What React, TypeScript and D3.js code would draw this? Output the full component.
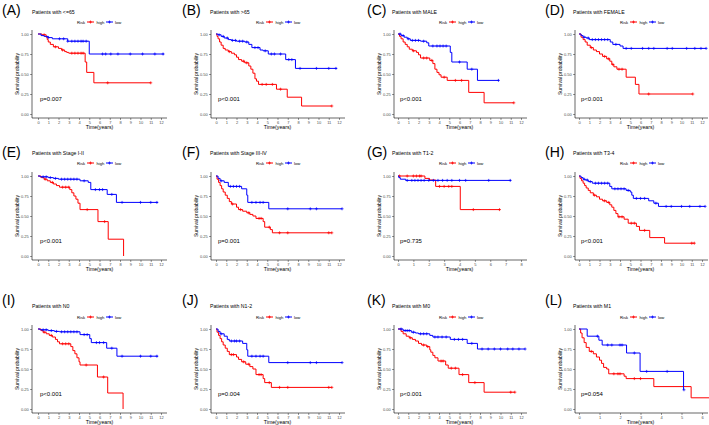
import { useEffect, useRef } from "react"
import * as d3 from "d3"

// panel labels and subtitles
const letters = ["(A)", "(B)", "(C)", "(D)", "(E)", "(F)", "(G)", "(H)", "(I)", "(J)", "(K)", "(L)"]
const titles = [
  "Patients with <=65",
  "Patients with >65",
  "Patients with MALE",
  "Patients with FEMALE",
  "Patients with Stage I-II",
  "Patients with Stage III-IV",
  "Patients with T1-2",
  "Patients with T3-4",
  "Patients with N0",
  "Patients with N1-2",
  "Patients with M0",
  "Patients with M1",
]
const pvals = ["p=0.007", "p<0.001", "p<0.001", "p<0.001", "p<0.001", "p=0.001", "p=0.735", "p<0.001", "p<0.001", "p=0.004", "p<0.001", "p=0.054"]
const xMaxTicks = [12, 12, 12, 12, 12, 12, 8, 12, 12, 12, 12, 6]
const yTicks = [0, 0.25, 0.5, 0.75, 1]

// step points [time, survival] for each risk group, plus censored times
const highA = [[0, 1], [0.4, 0.99], [0.8, 0.96], [0.9, 0.93], [1.0, 0.9], [1.2, 0.87], [1.5, 0.84], [2.0, 0.82], [2.3, 0.8], [2.6, 0.78], [2.8, 0.77], [3.0, 0.76], [4.6, 0.65], [4.75, 0.52], [5.45, 0.39], [11.0, 0.39]]
const lowA = [[0, 1], [0.3, 0.98], [0.6, 0.97], [1.0, 0.955], [1.4, 0.94], [2.9, 0.91], [5.0, 0.75], [12.3, 0.75]]
const censHighA = [0.6, 1.7, 2.4, 3.3, 3.6, 3.9, 4.2, 4.4, 6.8, 11.0]
const censLowA = [1.0, 2.1, 2.5, 2.9, 3.3, 3.6, 3.9, 4.2, 4.4, 4.7, 6.3, 6.6, 7.1, 7.8, 9.0, 10.2, 11.4, 12.2]

const highB = [[0, 1], [0.1, 0.97], [0.2, 0.94], [0.35, 0.9], [0.5, 0.86], [0.7, 0.82], [0.9, 0.8], [1.2, 0.78], [1.5, 0.76], [1.8, 0.74], [2.0, 0.71], [2.2, 0.68], [2.5, 0.66], [2.8, 0.64], [3.2, 0.6], [3.4, 0.56], [3.6, 0.51], [3.8, 0.44], [3.95, 0.41], [4.15, 0.37], [5.9, 0.31], [6.95, 0.21], [8.35, 0.1], [11.3, 0.1]]
const lowB = [[0, 1], [0.2, 0.99], [0.5, 0.97], [0.8, 0.95], [1.2, 0.93], [1.5, 0.92], [2.0, 0.91], [2.8, 0.9], [3.2, 0.87], [3.5, 0.83], [4.3, 0.8], [4.6, 0.79], [5.1, 0.75], [6.8, 0.68], [7.75, 0.57], [11.8, 0.57]]
const censHighB = [1.3, 2.7, 3.0, 4.5, 4.9, 5.5, 6.3, 11.3]
const censLowB = [0.3, 0.7, 1.1, 1.6, 1.9, 2.3, 2.6, 3.0, 3.8, 4.1, 4.8, 5.4, 5.7, 6.3, 7.1, 7.4, 8.2, 9.8, 11.0, 11.7]

const highC = [[0, 1], [0.15, 0.97], [0.3, 0.94], [0.5, 0.9], [0.7, 0.87], [0.9, 0.84], [1.1, 0.81], [1.4, 0.79], [1.8, 0.77], [2.0, 0.74], [2.2, 0.7], [3.1, 0.67], [3.4, 0.63], [3.6, 0.56], [3.8, 0.52], [4.0, 0.49], [4.2, 0.46], [4.8, 0.42], [6.9, 0.27], [8.4, 0.14], [11.3, 0.14]]
const lowC = [[0, 1], [0.3, 0.98], [0.6, 0.96], [0.9, 0.94], [1.2, 0.92], [2.2, 0.91], [2.8, 0.89], [3.0, 0.85], [5.1, 0.77], [5.25, 0.65], [6.75, 0.56], [7.75, 0.42], [9.85, 0.42]]
const censHighC = [1.5, 2.5, 2.8, 3.3, 4.5, 5.6, 6.2, 11.3]
const censLowC = [0.2, 0.5, 1.0, 1.4, 1.7, 2.0, 2.5, 3.4, 3.8, 4.1, 4.4, 4.7, 6.0, 7.2, 9.8]

const highD = [[0, 1], [0.2, 0.96], [0.4, 0.93], [0.6, 0.9], [0.8, 0.86], [1.1, 0.83], [1.4, 0.8], [1.7, 0.78], [2.0, 0.75], [2.3, 0.72], [2.7, 0.69], [3.0, 0.66], [3.2, 0.62], [3.4, 0.59], [3.7, 0.56], [4.6, 0.46], [5.5, 0.37], [5.85, 0.25], [11.1, 0.25]]
const lowD = [[0, 1], [0.2, 0.98], [0.4, 0.96], [0.7, 0.95], [1.0, 0.93], [3.05, 0.9], [3.3, 0.87], [4.0, 0.85], [4.3, 0.82], [12.4, 0.82]]
const censHighD = [1.2, 2.5, 2.9, 3.3, 3.9, 4.2, 6.8, 11.1]
const censLowD = [0.5, 0.9, 1.3, 1.6, 1.9, 2.2, 2.5, 2.8, 3.6, 4.6, 5.1, 6.2, 6.8, 7.3, 8.6, 9.1, 10.5, 11.3, 11.9, 12.4]

const highE = [[0, 1], [0.3, 0.98], [0.6, 0.96], [0.9, 0.94], [1.2, 0.92], [1.5, 0.9], [1.8, 0.88], [2.1, 0.86], [3.1, 0.83], [3.3, 0.79], [3.5, 0.75], [3.7, 0.71], [3.9, 0.66], [4.1, 0.58], [5.85, 0.43], [6.85, 0.21], [8.35, 0]]
const lowE = [[0, 1], [0.2, 0.99], [1.0, 0.98], [1.5, 0.97], [2.0, 0.96], [4.1, 0.94], [4.9, 0.92], [5.15, 0.83], [6.75, 0.77], [7.65, 0.67], [11.7, 0.67]]
const censHighE = [0.7, 1.4, 2.4, 2.7, 3.0, 4.8, 6.5]
const censLowE = [0.5, 0.8, 1.2, 1.7, 2.3, 2.6, 2.9, 3.2, 3.5, 3.8, 4.5, 5.6, 6.0, 6.3, 7.2, 8.2, 10.0, 11.0, 11.6]

const highF = [[0, 1], [0.1, 0.96], [0.25, 0.92], [0.4, 0.88], [0.55, 0.84], [0.7, 0.8], [0.9, 0.76], [1.1, 0.72], [1.3, 0.68], [1.5, 0.65], [2.0, 0.61], [2.2, 0.58], [2.6, 0.56], [3.0, 0.54], [3.3, 0.52], [3.6, 0.5], [3.9, 0.47], [4.6, 0.43], [4.75, 0.36], [5.3, 0.33], [5.5, 0.29], [11.3, 0.29]]
const lowF = [[0, 1], [0.2, 0.97], [0.4, 0.94], [0.8, 0.92], [1.2, 0.87], [2.5, 0.84], [3.0, 0.76], [3.1, 0.67], [5.15, 0.59], [12.3, 0.59]]
const censHighF = [1.6, 2.4, 3.2, 4.2, 4.4, 5.2, 6.2, 7.0, 11.0, 11.3]
const censLowF = [0.5, 1.4, 1.7, 2.0, 2.3, 3.5, 3.9, 4.3, 4.6, 7.0, 9.2, 9.8, 12.3]

const highG = [[0, 1], [1.75, 0.97], [2.05, 0.95], [2.45, 0.87], [4.05, 0.58], [6.65, 0.58]]
const lowG = [[0, 1], [0.05, 0.98], [0.15, 0.96], [0.5, 0.945], [7.35, 0.945]]
const censHighG = [0.1, 0.6, 1.0, 1.2, 1.4, 1.5, 2.7, 3.0, 3.3, 3.5, 4.9, 6.6]
const censLowG = [0.6, 0.9, 1.1, 1.3, 1.5, 1.7, 2.0, 2.3, 2.6, 2.9, 3.2, 3.5, 4.0, 4.4, 5.9, 7.3]

const highH = [[0, 1], [0.1, 0.97], [0.25, 0.94], [0.4, 0.91], [0.55, 0.88], [0.7, 0.85], [0.9, 0.82], [1.1, 0.79], [1.4, 0.76], [1.7, 0.74], [2.0, 0.71], [2.3, 0.69], [2.7, 0.67], [3.0, 0.64], [3.2, 0.61], [3.4, 0.57], [3.6, 0.53], [3.8, 0.49], [4.4, 0.46], [4.8, 0.41], [5.6, 0.37], [5.9, 0.32], [6.9, 0.23], [8.35, 0.16], [11.25, 0.16]]
const lowH = [[0, 1], [0.2, 0.98], [0.4, 0.96], [0.6, 0.95], [0.9, 0.93], [1.3, 0.91], [3.0, 0.87], [3.2, 0.84], [4.6, 0.82], [5.0, 0.8], [5.15, 0.76], [5.3, 0.72], [6.8, 0.69], [7.3, 0.66], [7.75, 0.62], [12.3, 0.62]]
const censHighH = [1.5, 2.5, 2.9, 3.9, 4.2, 5.1, 5.4, 6.4, 11.0, 11.25]
const censLowH = [0.5, 0.8, 1.1, 1.6, 1.9, 2.2, 2.5, 2.8, 3.5, 3.8, 4.1, 4.4, 4.8, 5.6, 6.0, 6.4, 7.5, 8.5, 9.0, 10.0, 10.8, 11.8, 12.3]

const highI = [[0, 1], [0.3, 0.98], [0.5, 0.96], [0.8, 0.94], [1.1, 0.92], [1.4, 0.9], [1.7, 0.87], [1.9, 0.84], [2.1, 0.815], [3.2, 0.78], [3.4, 0.73], [3.6, 0.69], [3.8, 0.64], [4.0, 0.59], [4.1, 0.55], [5.8, 0.4], [6.8, 0.2], [8.3, 0]]
const lowI = [[0, 1], [0.2, 0.99], [1.0, 0.98], [1.6, 0.97], [2.1, 0.965], [4.1, 0.93], [5.05, 0.88], [5.2, 0.83], [6.7, 0.76], [7.7, 0.66], [11.7, 0.66]]
const censHighI = [0.6, 1.3, 2.4, 2.7, 3.0, 4.7, 6.4]
const censLowI = [0.5, 0.8, 1.3, 1.8, 2.3, 2.6, 2.9, 3.2, 3.5, 3.8, 4.5, 4.8, 5.7, 6.0, 6.4, 7.2, 8.2, 10.0, 11.0, 11.6]

const highJ = [[0, 1], [0.1, 0.96], [0.25, 0.92], [0.4, 0.88], [0.55, 0.84], [0.7, 0.8], [0.9, 0.76], [1.1, 0.72], [1.3, 0.68], [2.0, 0.65], [2.2, 0.62], [2.5, 0.59], [2.9, 0.56], [3.3, 0.53], [3.6, 0.5], [3.9, 0.43], [4.6, 0.38], [4.75, 0.33], [5.4, 0.27], [11.3, 0.27]]
const lowJ = [[0, 1], [0.2, 0.97], [0.4, 0.94], [0.8, 0.91], [1.1, 0.87], [1.3, 0.85], [2.6, 0.82], [3.0, 0.74], [3.1, 0.66], [5.15, 0.58], [12.3, 0.58]]
const censHighJ = [1.5, 1.7, 2.7, 3.2, 4.2, 4.4, 5.2, 6.2, 7.0, 11.0, 11.3]
const censLowJ = [0.5, 1.5, 1.8, 2.0, 2.3, 3.5, 3.9, 4.3, 4.6, 7.0, 9.2, 9.8, 12.3]

const highK = [[0, 1], [0.3, 0.97], [0.5, 0.94], [0.8, 0.91], [1.1, 0.89], [1.4, 0.87], [1.7, 0.85], [2.0, 0.82], [2.3, 0.8], [2.8, 0.78], [3.1, 0.74], [3.2, 0.71], [3.4, 0.67], [3.6, 0.64], [3.9, 0.6], [4.65, 0.55], [4.9, 0.51], [5.95, 0.43], [6.9, 0.33], [8.4, 0.21], [11.4, 0.21]]
const lowK = [[0, 1], [0.5, 0.98], [1.3, 0.96], [1.7, 0.95], [2.0, 0.94], [3.1, 0.92], [3.4, 0.9], [5.1, 0.87], [6.75, 0.82], [7.75, 0.75], [12.4, 0.75]]
const censHighK = [1.2, 2.5, 2.9, 4.2, 4.4, 5.2, 5.6, 6.3, 7.5, 11.0, 11.4]
const censLowK = [0.3, 0.7, 0.9, 1.1, 1.5, 2.2, 2.5, 2.8, 3.6, 3.9, 4.3, 4.7, 5.5, 5.9, 6.3, 7.2, 8.2, 8.8, 9.4, 10.0, 10.7, 11.2, 11.8, 12.4]

const highL = [[0, 1], [0.08, 0.95], [0.15, 0.89], [0.25, 0.83], [0.35, 0.77], [0.5, 0.72], [0.7, 0.69], [0.85, 0.65], [1.0, 0.61], [1.1, 0.57], [1.2, 0.52], [1.35, 0.5], [1.45, 0.44], [2.2, 0.41], [2.3, 0.38], [3.65, 0.28], [5.47, 0.14], [6.4, 0.14]]
const lowL = [[0, 1], [0.4, 0.91], [0.97, 0.86], [1.13, 0.8], [2.32, 0.7], [2.98, 0.47], [5.1, 0.24], [5.12, 0.24]]
const censHighL = [0.6, 1.7, 1.9, 2.0, 2.7, 3.0]
const censLowL = [0.9, 1.4, 1.6, 2.0, 2.1, 2.7, 3.3, 4.3, 5.12]

const highCurves = [highA, highB, highC, highD, highE, highF, highG, highH, highI, highJ, highK, highL]
const lowCurves = [lowA, lowB, lowC, lowD, lowE, lowF, lowG, lowH, lowI, lowJ, lowK, lowL]
const highCens = [censHighA, censHighB, censHighC, censHighD, censHighE, censHighF, censHighG, censHighH, censHighI, censHighJ, censHighK, censHighL]
const lowCens = [censLowA, censLowB, censLowC, censLowD, censLowE, censLowF, censLowG, censLowH, censLowI, censLowJ, censLowK, censLowL]

const RED = "#FF0000"
const BLUE = "#0000FF"
const FONT = "Arial, 'Liberation Sans', Helvetica, sans-serif"

export default function App() {
  const svgRef = useRef(null)

  useEffect(() => {
    if (!svgRef.current) return
    const svg = d3.select(svgRef.current)
    svg.selectAll("*").remove()

    const width = 709
    const height = 425

    // grid of panels
    const axisXs = [32, 211, 394, 575]
    const zeroXs = [38, 216, 398, 579]
    const letterXs = [2, 182, 367, 545]
    const titleXs = [32, 210, 392, 573]
    const topYs = [34, 176, 329]
    const letterYs = [10, 152, 300]
    const titleYs = [12, 153, 306]
    const legendYs = [22, 163, 317]
    const plotW = 123
    const plotH = 80

    svg.attr("width", width).attr("height", height).attr("font-family", FONT)
    svg.append("rect").attr("width", width).attr("height", height).attr("fill", "#fff")

    letters.forEach((letter, i) => {
      const col = i % 4
      const row = Math.floor(i / 4)
      const ax = axisXs[col]
      const yT = topYs[row]
      const yB = yT + plotH
      const xMax = xMaxTicks[i]

      const x = d3.scaleLinear().domain([0, xMax]).range([zeroXs[col], zeroXs[col] + plotW])
      const y = d3.scaleLinear().domain([0, 1]).range([yB, yT])

      const g = svg.append("g")

      // panel letter and title
      g.append("text")
        .attr("x", letterXs[col])
        .attr("y", letterYs[row])
        .attr("dominant-baseline", "central")
        .attr("font-size", "14px")
        .text(letter)

      g.append("text")
        .attr("x", titleXs[col])
        .attr("y", titleYs[row])
        .attr("dominant-baseline", "central")
        .attr("font-size", "5.2px")
        .text(titles[i])

      // legend
      const ly = legendYs[row]
      const lg = g.append("g").attr("transform", `translate(${ax},${ly})`)
      lg.append("text").attr("x", 45).attr("y", 0).attr("dominant-baseline", "central").attr("font-size", "4.2px").text("Risk")
      const keys = [
        { label: "high", color: RED, x1: 55, tx: 64.5 },
        { label: "low", color: BLUE, x1: 74, tx: 83 },
      ]
      keys.forEach((k) => {
        lg.append("line").attr("x1", k.x1).attr("x2", k.x1 + 7).attr("y1", 0).attr("y2", 0).attr("stroke", k.color).attr("stroke-width", 1)
        lg.append("path")
          .attr("d", `M${k.x1 + 2},0H${k.x1 + 5}M${k.x1 + 3.5},-1.5V1.5`)
          .attr("stroke", k.color)
          .attr("stroke-width", 0.7)
        lg.append("text").attr("x", k.tx).attr("y", 0).attr("dominant-baseline", "central").attr("font-size", "4.2px").text(k.label)
      })

      // y axis
      const yAxis = g.append("g")
        .attr("transform", `translate(${ax},0)`)
        .call(d3.axisLeft(y).tickValues(yTicks).tickFormat(d3.format(".2f")).tickSize(2).tickPadding(1.2))
      yAxis.select(".domain").remove()
      yAxis.selectAll("line").attr("stroke", "#333").attr("stroke-width", 0.5)
      yAxis.selectAll("text").attr("font-size", "4px").attr("fill", "#4d4d4d").attr("font-family", FONT)
      g.append("line").attr("x1", ax).attr("x2", ax).attr("y1", yT - 4).attr("y2", yB + 4).attr("stroke", "#000").attr("stroke-width", 0.6)

      // x axis
      const xAxis = g.append("g")
        .attr("transform", `translate(0,${yB + 4})`)
        .call(d3.axisBottom(x).tickValues(d3.range(0, xMax + 1)).tickFormat(d3.format("d")).tickSize(2).tickPadding(1.2))
      xAxis.select(".domain").remove()
      xAxis.selectAll("line").attr("stroke", "#333").attr("stroke-width", 0.5)
      xAxis.selectAll("text").attr("font-size", "4px").attr("fill", "#4d4d4d").attr("font-family", FONT)
      g.append("line").attr("x1", ax).attr("x2", zeroXs[col] + plotW + 6).attr("y1", yB + 4).attr("y2", yB + 4).attr("stroke", "#000").attr("stroke-width", 0.6)

      // axis titles
      g.append("text")
        .attr("transform", `translate(${ax - 15},${(yT + yB) / 2}) rotate(-90)`)
        .attr("text-anchor", "middle")
        .attr("dominant-baseline", "central")
        .attr("font-size", "5px")
        .text("Survival probability")

      g.append("text")
        .attr("x", (zeroXs[col] + zeroXs[col] + plotW) / 2)
        .attr("y", yB + 13)
        .attr("text-anchor", "middle")
        .attr("dominant-baseline", "central")
        .attr("font-size", "5.2px")
        .text("Time(years)")

      // survival curves
      const line = d3.line()
        .curve(d3.curveStepAfter)
        .x((d) => x(d[0]))
        .y((d) => y(d[1]))

      const groups = [
        { steps: highCurves[i], cens: highCens[i], color: RED },
        { steps: lowCurves[i], cens: lowCens[i], color: BLUE },
      ]
      groups.forEach((grp) => {
        g.append("path")
          .datum(grp.steps)
          .attr("fill", "none")
          .attr("stroke", grp.color)
          .attr("stroke-width", 1)
          .attr("d", line)

        const bis = d3.bisector((d) => d[0]).right
        grp.cens.forEach((t) => {
          const idx = Math.max(0, bis(grp.steps, t) - 1)
          const cx = x(t)
          const cy = y(grp.steps[idx][1])
          g.append("path")
            .attr("d", `M${cx - 1.5},${cy}H${cx + 1.5}M${cx},${cy - 1.5}V${cy + 1.5}`)
            .attr("stroke", grp.color)
            .attr("stroke-width", 0.7)
        })
      })

      // log-rank p value
      g.append("text")
        .attr("x", zeroXs[col] + 2)
        .attr("y", y(0.19))
        .attr("dominant-baseline", "central")
        .attr("font-size", "6px")
        .text(pvals[i])
    })
  }, [])

  return (
    <div style={{ position: "absolute", left: 0, top: 0 }}>
      <svg ref={svgRef}></svg>
    </div>
  )
}
